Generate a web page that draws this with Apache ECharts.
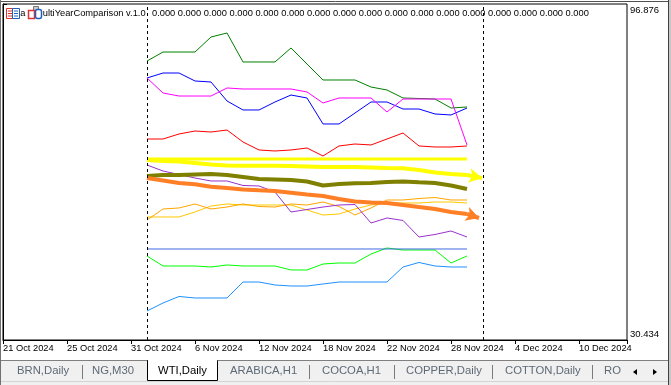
<!DOCTYPE html>
<html><head><meta charset="utf-8">
<script src="https://cdn.jsdelivr.net/npm/echarts@6/dist/echarts.min.js"></script>
<style>html,body{margin:0;padding:0;background:#fff;overflow:hidden}#c{width:671px;height:385px}</style>
</head><body><div id="c"></div>
<script>
// ---- trading days on the x axis (one slot per bar) ----
const dates = ['21 Oct 2024','22 Oct 2024','23 Oct 2024','24 Oct 2024','25 Oct 2024','28 Oct 2024','29 Oct 2024','30 Oct 2024','31 Oct 2024',
  '1 Nov 2024','4 Nov 2024','5 Nov 2024','6 Nov 2024','7 Nov 2024','8 Nov 2024','11 Nov 2024','12 Nov 2024','13 Nov 2024','14 Nov 2024','15 Nov 2024',
  '18 Nov 2024','19 Nov 2024','20 Nov 2024','21 Nov 2024','22 Nov 2024','25 Nov 2024','26 Nov 2024','27 Nov 2024','28 Nov 2024','29 Nov 2024',
  '2 Dec 2024','3 Dec 2024','4 Dec 2024','5 Dec 2024','6 Dec 2024','9 Dec 2024','10 Dec 2024','11 Dec 2024','12 Dec 2024','13 Dec 2024'];
const labelEvery = 4;
const yTickLabels = ['30.434','96.876'];
const startIdx = 9;           // series begin on 1 Nov 2024
const vLines = [9, 30];       // dashed separators: 1 Nov 2024, 2 Dec 2024

// ---- series values (1 Nov .. 29 Nov) ----
const green   = [85.60,87.38,87.38,87.38,90.35,91.14,85.41,85.41,85.41,88.18,85.01,81.85,81.85,81.85,80.46,79.87,78.29,78.19,78.09,76.31,76.51];
const blue    = [82.24,83.23,83.23,81.65,81.45,77.70,75.92,75.92,77.50,78.88,78.29,73.15,73.15,75.32,77.50,77.50,76.11,76.11,75.13,74.93,76.31];
const magenta = [82.24,79.28,78.68,78.68,78.68,80.27,80.07,80.07,80.07,80.07,79.48,77.30,78.29,78.29,78.29,75.52,78.09,78.09,78.09,78.09,69.00];
const red     = [70.18,70.18,71.17,71.76,71.56,71.96,69.59,68.01,67.81,68.01,68.40,66.82,68.80,69.19,69.00,70.18,71.37,68.80,68.60,68.60,68.80];
const yellowFlat  = [66.23,66.23,66.23,66.23,66.23,66.23,66.23,66.23,66.23,66.23,66.23,66.23,66.23,66.23,66.23,66.23,66.23,66.23,66.23,66.23,66.23];
const yellowTrend = [66.03,65.83,65.73,65.44,65.14,64.94,64.90,64.90,64.90,64.84,64.74,64.64,64.64,64.64,64.55,64.45,64.39,64.05,63.56,63.26,63.06];
const yellowTip   = [29.94, 62.47];
const olive   = [62.87,63.06,63.06,63.16,63.26,63.06,62.67,62.27,62.17,62.07,61.78,60.99,61.28,61.42,61.48,61.68,61.78,61.62,61.48,60.99,60.29];
const orangeTrend = [62.47,61.98,61.48,61.22,60.75,60.49,60.19,60.04,59.90,59.56,59.21,58.91,58.32,57.82,57.63,57.53,57.13,56.73,56.34,55.75,55.35];
const orangeTip   = [29.75, 54.56];
const purple  = [65.04,63.85,63.16,62.47,61.88,61.88,60.99,60.89,59.70,55.75,56.24,56.73,57.13,57.23,53.57,54.56,54.07,50.80,51.30,51.99,50.80];
const orange  = [54.16,56.34,56.54,57.33,56.34,56.73,57.33,56.83,56.73,57.33,57.13,57.72,56.83,55.15,56.54,58.12,58.12,58.41,58.61,58.12,58.12];
const gold    = [54.76,54.76,54.76,55.75,56.93,57.33,57.13,57.13,57.13,57.13,56.14,55.15,55.35,56.34,57.13,57.53,57.53,57.53,57.72,57.72,57.53];
const royal   = [48.43,48.43,48.43,48.43,48.43,48.43,48.43,48.43,48.43,48.43,48.43,48.43,48.43,48.43,48.43,48.43,48.43,48.43,48.43,48.43,48.43];
const lime    = [47.05,45.07,45.07,45.07,44.87,45.27,45.07,45.07,45.07,44.28,44.28,45.46,45.66,45.66,47.44,48.63,48.23,48.23,48.23,45.66,47.05];
const dodger  = [36.17,37.75,39.04,38.74,38.74,38.74,41.90,41.90,41.31,41.11,41.11,41.51,41.90,41.90,41.90,41.90,44.87,45.76,45.07,44.87,44.87];

const titleName = 'MultiYearComparison v.1.0';
const titleValues = ['0.000','0.000','0.000','0.000','0.000','0.000','0.000','0.000','0.000','0.000','0.000','0.000','0.000','0.000','0.000','0.000','0.000'];
const tabs = ['BRN,Daily','NG,M30','WTI,Daily','ARABICA,H1','COCOA,H1','COPPER,Daily','COTTON,Daily','RO'];
const activeTab = 'WTI,Daily';

const yMin = parseFloat(yTickLabels[0]), yMax = parseFloat(yTickLabels[1]);
const FONT = 'Liberation Sans';

function ser(vals, color, width, extra) {
  return Object.assign({
    type: 'line', data: vals.map((v, k) => [startIdx + k, v]), symbol: 'none',
    lineStyle: { color: color, width: width }, silent: true, animation: false
  }, extra || {});
}
function arrow(vals, tip, color) {
  return {
    silent: true, symbol: ['none', 'arrow'], symbolSize: [11, 13], label: { show: false },
    lineStyle: { color: color, width: 4, type: 'solid' },
    data: [[{ coord: [startIdx + vals.length - 1, vals[vals.length - 1]] }, { coord: tip }]]
  };
}

const chart = echarts.init(document.getElementById('c'), null, { renderer: 'canvas' });

// tab bar graphics
const tabX = [17, 92, 158, 230, 322, 406, 505, 604];
const sepX = [82, 309, 394, 492, 592];
const g = [];
g.push({ type: 'rect', shape: { x: 0, y: 361, width: 671, height: 24 }, style: { fill: '#F0F0F0' }, silent: true });
g.push({ type: 'line', shape: { x1: 0, y1: 381.5, x2: 671, y2: 381.5 }, style: { stroke: '#D4D4D4', lineWidth: 1 }, silent: true });
g.push({ type: 'line', shape: { x1: 0, y1: 360.5, x2: 148, y2: 360.5 }, style: { stroke: '#808080', lineWidth: 1 }, silent: true });
g.push({ type: 'line', shape: { x1: 218, y1: 360.5, x2: 671, y2: 360.5 }, style: { stroke: '#808080', lineWidth: 1 }, silent: true });
g.push({ type: 'rect', shape: { x: 147.5, y: 360.5, width: 70, height: 20 }, style: { fill: '#FFFFFF', stroke: '#000', lineWidth: 1 }, silent: true });
g.push({ type: 'rect', shape: { x: 148, y: 359, width: 69, height: 3 }, style: { fill: '#FFFFFF' }, silent: true });
tabs.forEach((t, i) => {
  g.push({ type: 'text', left: tabX[i], top: 365, style: { text: t, font: '11.3px "' + FONT + '"', fill: t === activeTab ? '#000' : '#5E6A76' }, silent: true });
});
sepX.forEach(x => g.push({ type: 'line', shape: { x1: x + 0.5, y1: 365, x2: x + 0.5, y2: 379 }, style: { stroke: '#7A7A7A', lineWidth: 1 }, silent: true }));
g.push({ type: 'polygon', shape: { points: [[633, 372], [637, 369], [637, 375]] }, style: { fill: '#000' }, silent: true });
g.push({ type: 'polygon', shape: { points: [[657, 372], [653, 369], [653, 375]] }, style: { fill: '#000' }, silent: true });
// window frame
g.push({ type: 'line', shape: { x1: 0, y1: 1.5, x2: 671, y2: 1.5 }, style: { stroke: '#505050', lineWidth: 1 }, silent: true });
g.push({ type: 'line', shape: { x1: 0.5, y1: 0, x2: 0.5, y2: 385 }, style: { stroke: '#707070', lineWidth: 1 }, silent: true });
g.push({ type: 'rect', shape: { x: 668, y: 0, width: 3, height: 385 }, style: { fill: '#C8C8C8' }, silent: true });
g.push({ type: 'line', shape: { x1: 668.5, y1: 0, x2: 668.5, y2: 385 }, style: { stroke: '#404040', lineWidth: 1 }, silent: true });
// title
g.push({ type: 'text', left: 15, top: 9, style: { text: 'ea', font: '9.3px "' + FONT + '"', fill: '#000' }, silent: true, z: 10 });
g.push({ type: 'text', left: 35, top: 9, style: { text: titleName, font: '9.3px "' + FONT + '"', fill: '#000' }, silent: true, z: 10 });
g.push({ type: 'text', left: 152, top: 9, style: { text: titleValues.join(' '), font: '9.3px "' + FONT + '"', fill: '#000' }, silent: true, z: 10 });
// indicator icons
g.push({ type: 'rect', shape: { x: 6.5, y: 8.5, width: 7, height: 10 }, style: { fill: '#fff', stroke: '#E03030', lineWidth: 1 }, silent: true, z: 11 });
g.push({ type: 'rect', shape: { x: 12.5, y: 8.5, width: 7, height: 10 }, style: { fill: '#fff', stroke: '#1F5FC0', lineWidth: 1 }, silent: true, z: 11 });
[11, 13.5, 16].forEach(y => {
  g.push({ type: 'line', shape: { x1: 8, y1: y, x2: 12, y2: y }, style: { stroke: '#E03030', lineWidth: 1 }, silent: true, z: 12 });
  g.push({ type: 'line', shape: { x1: 14, y1: y, x2: 18, y2: y }, style: { stroke: '#1F5FC0', lineWidth: 1 }, silent: true, z: 12 });
});
g.push({ type: 'rect', shape: { x: 33.5, y: 6.5, width: 5, height: 4 }, style: { fill: '#ccc', stroke: '#777', lineWidth: 1 }, silent: true, z: 11 });
g.push({ type: 'rect', shape: { x: 28.5, y: 10.5, width: 6, height: 8 }, style: { fill: '#fff', stroke: '#E03030', lineWidth: 1.5 }, silent: true, z: 11 });
g.push({ type: 'rect', shape: { x: 35.5, y: 9.5, width: 6, height: 9, r: 2 }, style: { fill: '#fff', stroke: '#1F5FC0', lineWidth: 1.5 }, silent: true, z: 11 });

const option = {
  animation: false,
  backgroundColor: '#fff',
  graphic: g,
  grid: { left: 3, right: 44, top: 4, bottom: 45, show: true, borderColor: '#000', borderWidth: 1, backgroundColor: '#fff' },
  xAxis: {
    type: 'value', min: 0, max: dates.length - 1, interval: labelEvery,
    axisLine: { show: true, lineStyle: { color: '#000', width: 1 } },
    axisTick: { show: true, length: 4, lineStyle: { color: '#000' } },
    splitLine: { show: false },
    axisLabel: {
      color: '#000', fontFamily: FONT, fontSize: 9.3, align: 'left', margin: 4,
      formatter: v => (v % labelEvery === 0 && v <= dates.length - labelEvery) ? dates[v] : ''
    }
  },
  yAxis: {
    type: 'value', position: 'right', min: yMin, max: yMax, interval: +(yMax - yMin).toFixed(3),
    axisLine: { show: true, lineStyle: { color: '#000', width: 1 } },
    axisTick: { show: true, length: 4, lineStyle: { color: '#000' } },
    splitLine: { show: false },
    axisLabel: {
      color: '#000', fontFamily: FONT, fontSize: 9.5, margin: 3,
      formatter: v => {
        const s = v.toFixed(3);
        return Math.abs(v - yMax) < 1e-6 ? '{t|' + s + '}' : '{b|' + s + '}';
      },
      rich: {
        t: { fontFamily: FONT, fontSize: 9.5, color: '#000', padding: [12, 0, 0, 0] },
        b: { fontFamily: FONT, fontSize: 9.5, color: '#000', padding: [0, 0, 12, 0] }
      }
    }
  },
  series: [
    ser(dodger, '#1E90FF', 1, {
      markLine: { silent: true, symbol: ['none', 'none'], label: { show: false }, animation: false,
        lineStyle: { color: '#000', type: [3, 3], width: 1 }, data: vLines.map(x => ({ xAxis: x })) }
    }),
    ser(lime, '#00FF00', 1),
    ser(royal, '#4169E1', 1),
    ser(gold, '#FFC800', 1),
    ser(orange, '#FFA500', 1),
    ser(purple, '#9932CC', 1),
    ser(red, '#FF0000', 1),
    ser(green, '#008000', 1),
    ser(blue, '#0000FF', 1),
    ser(magenta, '#FF00FF', 1),
    ser(yellowFlat, '#FFFF00', 3),
    ser(yellowTrend, '#FFFF00', 4, { markLine: arrow(yellowTrend, yellowTip, '#FFFF00') }),
    ser(olive, '#808000', 4),
    ser(orangeTrend, '#FF7F27', 4, { markLine: arrow(orangeTrend, orangeTip, '#FF7F27') })
  ]
};
chart.setOption(option);
</script>
</body></html>
